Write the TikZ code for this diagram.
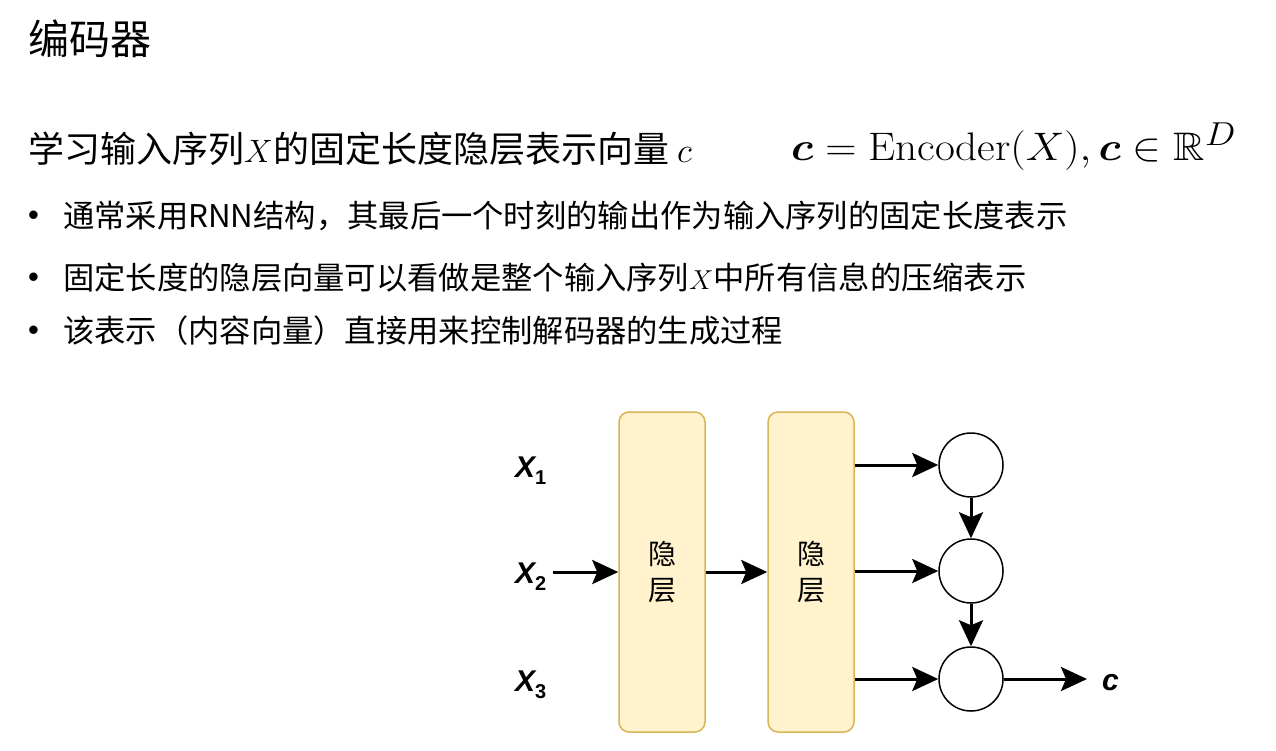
\documentclass[tikz,border=0pt]{standalone}
\usepackage{amsmath,amssymb,bm}
\usepackage{fontspec}
\usetikzlibrary{arrows.meta,positioning}
\newfontfamily\cjk{Noto Sans CJK SC}
\newfontfamily\arialfont{Liberation Sans}
\definecolor{boxfill}{HTML}{FFF2CC}
\definecolor{boxline}{HTML}{D6B656}
% math at a size the CM fonts have, then scaled
\newcommand{\bigmath}[2]{\scalebox{#1}{\fontsize{24.88}{24.88}\selectfont$#2$}}

\begin{document}
\begin{tikzpicture}[x=1pt,y=-1pt,
		hidden/.style={draw=boxline, fill=boxfill, line width=1.5pt,
			rounded corners=10pt, minimum width=86pt, minimum height=320pt,
			inner sep=0pt, align=center,
			font=\fontsize{28}{36}\selectfont\cjk},
		unit/.style={draw, circle, line width=1.5pt, minimum size=64pt, inner sep=0pt},
		flow/.style={line width=3pt, -{Stealth[length=26pt, width=24pt, inset=5pt]}},
		lbl/.style={inner sep=0pt, font=\fontsize{30}{30}\selectfont\arialfont\bfseries\itshape},
		txt/.style={inner sep=0pt, anchor=base west},
	]
	\useasboundingbox (0,0) rectangle (1276,750);

	% heading and text
	\node[txt, font=\fontsize{41}{41}\selectfont\cjk] (title) at (28,54) {编码器};
	\node[txt, font=\fontsize{36}{36}\selectfont\cjk] (goal) at (28,162)
		{学习输入序列\bigmath{1.3}{X}的固定长度隐层表示向量 \bigmath{1.4}{c}};
	\node[txt] (formula) at (791,160)
		{\scalebox{1.74}[1.6]{\fontsize{24.88}{24.88}\selectfont$\bm{c}=\mathrm{Encoder}(X),\bm{c}\in\mathbb{R}^D$}};

	\foreach \y/\name/\t in {227/b1/{通常采用RNN结构，其最后一个时刻的输出作为输入序列的固定长度表示},
			289/b2/{固定长度的隐层向量可以看做是整个输入序列\bigmath{1.1}{X}中所有信息的压缩表示},
			342/b3/{该表示（内容向量）直接用来控制解码器的生成过程}} {
		\node[txt, font=\fontsize{31}{31}\selectfont\arialfont] (\name dot) at (28,\y-2) {•};
		\node[txt, font=\fontsize{31.3}{31.3}\selectfont\cjk] (\name) at (63,\y) {\t};
	}

	% inputs
	\node[lbl, anchor=base west] (x1) at (515,477) {X\raisebox{-7pt}{\fontsize{20}{20}\selectfont\upshape 1}};
	\node[lbl, anchor=base west] (x2) at (515,583) {X\raisebox{-7pt}{\fontsize{20}{20}\selectfont\upshape 2}};
	\node[lbl, anchor=base west] (x3) at (515,691) {X\raisebox{-7pt}{\fontsize{20}{20}\selectfont\upshape 3}};

	% hidden layers
	\node[hidden] (h1) at (662,572) {隐\\层};
	\node[hidden] (h2) at (811,572) {隐\\层};

	% recurrent units
	\node[unit] (u1) at (971,465) {};
	\node[unit] (u2) at (971,571) {};
	\node[unit] (u3) at (971,679) {};

	\node[lbl, anchor=base west] (c) at (1102,690) {c};

	\draw[flow, shorten <=6pt] (x2.east |- h1.west) to (h1.west);
	\draw[flow] (h1) to (h2);
	\draw[flow] (h2.east |- u1) to (u1);
	\draw[flow] (h2.east |- u2) to (u2);
	\draw[flow] (h2.east |- u3) to (u3);
	\draw[flow] (u1) to (u2);
	\draw[flow] (u2) to (u3);
	\draw[flow, shorten >=15pt] (u3) to (u3 -| c.west);
\end{tikzpicture}
\end{document}
